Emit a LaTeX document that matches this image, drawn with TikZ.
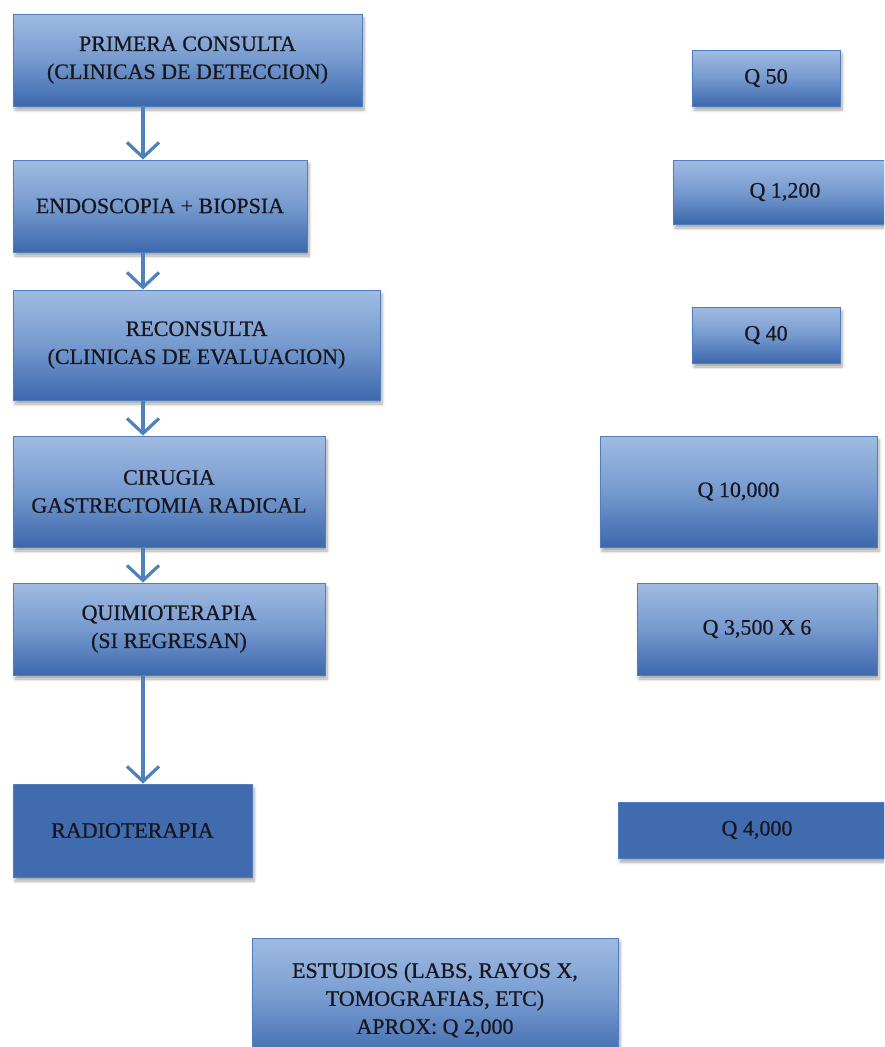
\documentclass[tikz,border=0pt]{standalone}
\usepackage{fontspec}
\setmainfont{Liberation Serif}
\usetikzlibrary{shadows.blur,arrows.meta}
\definecolor{boxtop}{RGB}{160,187,226}
\definecolor{boxmid}{RGB}{118,154,207}
\definecolor{boxbot}{RGB}{60,104,172}
\definecolor{boxflat}{RGB}{64,107,174}
\definecolor{boxline}{RGB}{80,125,190}
\definecolor{arrowblue}{RGB}{79,129,189}
\definecolor{txt}{RGB}{22,22,28}
\tikzset{
  panel/.style={draw=boxline, line width=0.8pt,
    top color=boxtop, bottom color=boxbot, middle color=boxmid,
    blur shadow={shadow xshift=2pt, shadow yshift=-4pt, shadow blur radius=3pt,
      shadow blur steps=6, shadow opacity=35},
    inner sep=0pt, align=center, text=txt,
    font=\fontsize{22}{28}\selectfont\addfontfeature{FakeBold=0.6}},
  flatpanel/.style={panel, fill=boxflat, top color=boxflat, bottom color=boxflat, middle color=boxflat},
  flow/.style={draw=arrowblue, line width=3.2pt,
    -{Straight Barb[length=15pt, width=32pt, line width=3.2pt]}},
}
\begin{document}
\begin{tikzpicture}[x=1pt, y=1pt]
\useasboundingbox (0,0) rectangle (884,-1047);
\clip (0,0) rectangle (884,-1047);
% left column: steps of care
\node[panel, minimum width=349pt, minimum height=92pt] (b1) at (187.5,-60) {PRIMERA CONSULTA\\(CLINICAS DE DETECCION)};
\node[panel, minimum width=294pt, minimum height=92pt] (b2) at (160,-206) {ENDOSCOPIA + BIOPSIA};
\node[panel, minimum width=367pt, minimum height=110pt] (b3) at (196.5,-345) {RECONSULTA\\(CLINICAS DE EVALUACION)};
\node[panel, minimum width=312pt, minimum height=111pt] (b4) at (169,-491.5) {CIRUGIA\\GASTRECTOMIA RADICAL};
\node[panel, minimum width=312pt, minimum height=92pt] (b5) at (169,-629) {QUIMIOTERAPIA\\(SI REGRESAN)};
\node[flatpanel, minimum width=239pt, minimum height=93pt] (b6) at (132.5,-830.5) {RADIOTERAPIA};
% right column: costs
\node[panel, minimum width=148pt, minimum height=56pt] (c1) at (766,-78) {Q 50};
\node[panel, minimum width=224pt, minimum height=64pt] (c2) at (785,-192) {Q 1,200};
\node[panel, minimum width=148pt, minimum height=56pt] (c3) at (766,-335) {Q 40};
\node[panel, minimum width=277pt, minimum height=111pt] (c4) at (738.5,-491.5) {Q 10,000};
\node[panel, minimum width=240pt, minimum height=92pt] (c5) at (757,-629) {Q 3,500 X 6};
\node[flatpanel, minimum width=278pt, minimum height=56pt] (c6) at (757,-830) {Q 4,000};
% extra studies
\node[panel, minimum width=366pt, minimum height=124pt] (st) at (435,-1000) {ESTUDIOS (LABS, RAYOS X,\\TOMOGRAFIAS, ETC)\\APROX: Q 2,000};
% flow arrows
\coordinate (ax) at (143,0);
\draw[flow] (b1.south -| ax) -- (b2.north -| ax);
\draw[flow] (b2.south -| ax) -- (b3.north -| ax);
\draw[flow] (b3.south -| ax) -- (b4.north -| ax);
\draw[flow] (b4.south -| ax) -- (b5.north -| ax);
\draw[flow] (b5.south -| ax) -- (b6.north -| ax);
\end{tikzpicture}
\end{document}
